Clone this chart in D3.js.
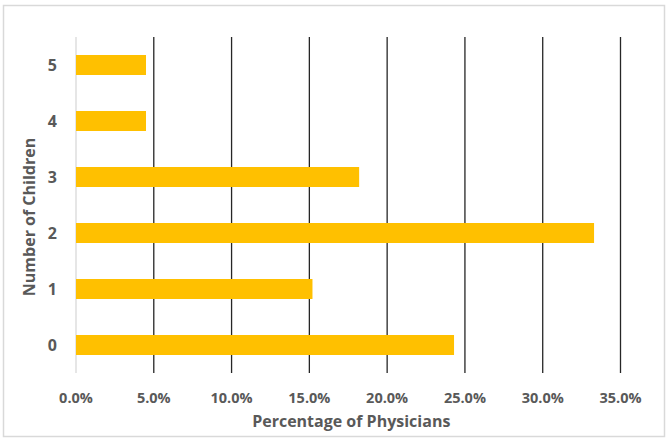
<!DOCTYPE html>
<html>
<head>
<meta charset="utf-8">
<script src="https://cdn.jsdelivr.net/npm/d3@7"></script>
<style>
  body { margin: 0; background: #fff; }
  text { font-family: "Open Sans", Lato, sans-serif; font-weight: bold; fill: #595959; }
</style>
</head>
<body>
<div id="chart"></div>
<script>
const categories = ['0', '1', '2', '3', '4', '5'];
const values = [24.3, 15.2, 33.3, 18.2, 4.5, 4.5];
const xTicks = [0, 5, 10, 15, 20, 25, 30, 35];

const width = 669, height = 443;
const margin = { top: 37, right: 48.5, bottom: 70, left: 76 };

const svg = d3.select('#chart').append('svg')
    .attr('width', width)
    .attr('height', height);

// chart border
svg.append('rect')
    .attr('x', 3.5).attr('y', 5.5)
    .attr('width', 661).attr('height', 431)
    .attr('fill', 'none')
    .attr('stroke', '#d9d9d9')
    .attr('stroke-width', 1.5);

const x = d3.scaleLinear()
    .domain([0, 35])
    .range([margin.left, width - margin.right]);

const y = d3.scaleBand()
    .domain(categories.slice().reverse())
    .range([margin.top, height - margin.bottom])
    .paddingInner(0.643)
    .paddingOuter(0.3215);

// gridlines
svg.append('g')
    .selectAll('line')
    .data(xTicks)
    .enter().append('line')
    .attr('x1', d => x(d)).attr('x2', d => x(d))
    .attr('y1', margin.top).attr('y2', height - margin.bottom)
    .attr('stroke', d => d === 0 ? '#d9d9d9' : '#262626')
    .attr('stroke-width', 1.3);

// bars
svg.append('g')
    .selectAll('rect')
    .data(categories)
    .enter().append('rect')
    .attr('x', x(0))
    .attr('y', d => y(d))
    .attr('width', (d, i) => x(values[i]) - x(0))
    .attr('height', y.bandwidth())
    .attr('fill', '#FFC000');

// x tick labels
svg.append('g')
    .selectAll('text')
    .data(xTicks)
    .enter().append('text')
    .attr('x', d => x(d))
    .attr('y', 403)
    .attr('text-anchor', 'middle')
    .style('font-size', '14.5px')
    .text(d => d.toFixed(1) + '%');

// y tick labels
svg.append('g')
    .selectAll('text')
    .data(categories)
    .enter().append('text')
    .attr('x', 57)
    .attr('y', d => y(d) + y.bandwidth() / 2 + 6)
    .attr('text-anchor', 'end')
    .style('font-size', '16px')
    .text(d => d);

// axis titles
svg.append('text')
    .attr('x', (x(0) + x(35)) / 2 + 3)
    .attr('y', 427)
    .attr('text-anchor', 'middle')
    .style('font-size', '16px')
    .text('Percentage of Physicians');

svg.append('text')
    .attr('transform', `translate(35, ${(margin.top + height - margin.bottom) / 2 + 12}) rotate(-90)`)
    .attr('text-anchor', 'middle')
    .style('font-size', '16px')
    .text('Number of Children');
</script>
</body>
</html>
